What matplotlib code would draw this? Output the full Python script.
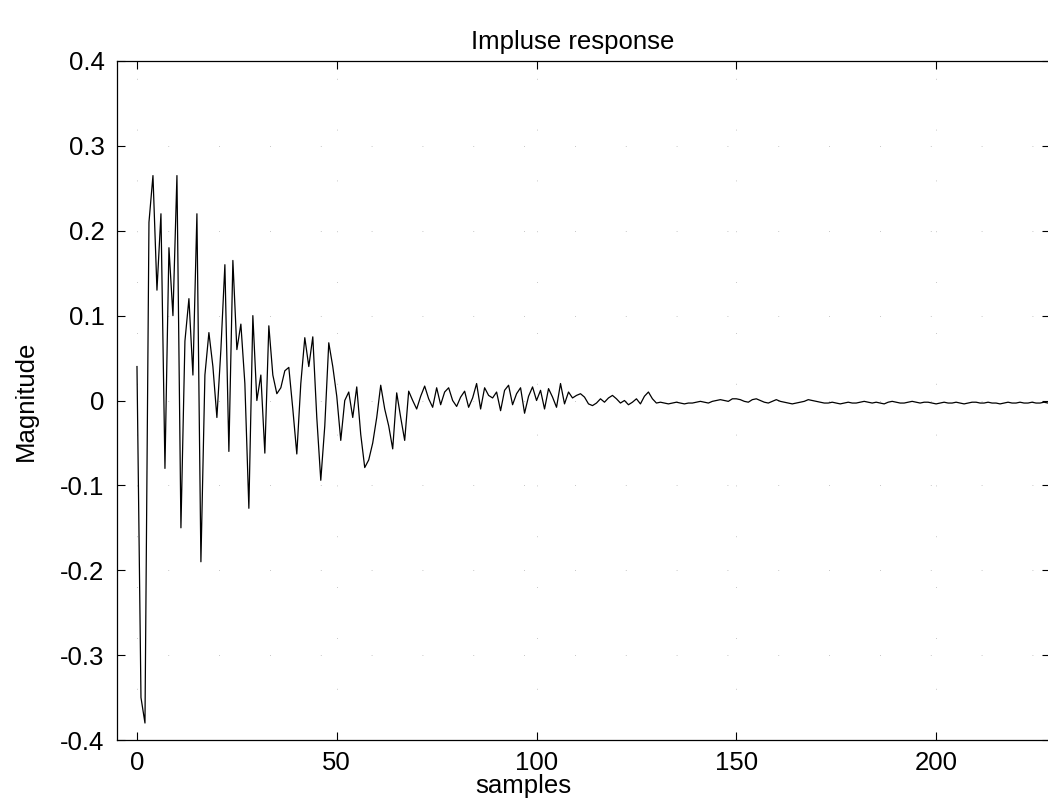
import matplotlib.pyplot as plt
import numpy as np

plt.rcParams['font.family'] = ['Liberation Sans', 'DejaVu Sans']
plt.rcParams['axes.unicode_minus'] = False

# Impulse response values, one per sample
h_early = [
    0.04, -0.35, -0.38, 0.21, 0.265, 0.13, 0.22, -0.08, 0.18, 0.10,      # 0-9
    0.265, -0.15, 0.07, 0.12, 0.03, 0.22, -0.19, 0.03, 0.08, 0.04,       # 10-19
    -0.02, 0.06, 0.16, -0.06, 0.165, 0.06, 0.09, 0.02, -0.127, 0.10,     # 20-29
    0.0, 0.03, -0.062, 0.088, 0.03, 0.008, 0.015, 0.035, 0.039, -0.01,   # 30-39
    -0.063, 0.02, 0.074, 0.04, 0.075, -0.02, -0.094, -0.03, 0.068, 0.04, # 40-49
    0.005, -0.047, 0.0, 0.01, -0.02, 0.016, -0.04, -0.079, -0.07, -0.05, # 50-59
]
h_mid = [
    -0.02, 0.018, -0.01, -0.03, -0.057, 0.009, -0.02, -0.047, 0.011, 0.0,     # 60-69
    -0.01, 0.005, 0.017, 0.002, -0.008, 0.015, -0.005, 0.01, 0.015, 0.0,      # 70-79
    -0.007, 0.004, 0.011, -0.008, 0.003, 0.02, -0.01, 0.015, 0.006, 0.003,    # 80-89
    0.01, -0.012, 0.012, 0.018, -0.005, 0.008, 0.015, -0.015, 0.005, 0.016,   # 90-99
    0.0, 0.012, -0.01, 0.014, 0.004, -0.008, 0.02, -0.004, 0.01, 0.003,       # 100-109
    0.006, 0.008, 0.004, -0.004, -0.006, -0.003, 0.002, -0.002, 0.003, 0.006, # 110-119
    0.002, -0.003, 0.0, -0.005, -0.002, 0.002, -0.004, 0.005, 0.01, 0.002,    # 120-129
]
h_tail = [
    -0.003, -0.002, -0.003, -0.004, -0.003, -0.002, -0.003, -0.004, -0.003, -0.003,  # 130-139
    -0.002, -0.001, -0.002, -0.003, -0.001, 0.0, 0.001, 0.0, -0.001, 0.002,          # 140-149
    0.002, 0.001, -0.001, -0.002, 0.001, 0.002, 0.0, -0.002, -0.003, -0.001,         # 150-159
    0.001, -0.001, -0.002, -0.003, -0.004, -0.003, -0.002, -0.001, 0.001, 0.0,       # 160-169
    -0.001, -0.002, -0.003, -0.003, -0.002, -0.003, -0.004, -0.003, -0.002, -0.003,  # 170-179
    -0.003, -0.002, -0.001, -0.002, -0.003, -0.002, -0.003, -0.004, -0.002, -0.001,  # 180-189
    -0.002, -0.003, -0.003, -0.002, -0.001, -0.002, -0.003, -0.002, -0.002, -0.003,  # 190-199
    -0.004, -0.003, -0.002, -0.003, -0.003, -0.002, -0.003, -0.004, -0.003, -0.002,  # 200-209
    -0.002, -0.003, -0.003, -0.002, -0.003, -0.003, -0.004, -0.003, -0.002, -0.003,  # 210-219
    -0.003, -0.002, -0.003, -0.003, -0.002, -0.003, -0.003, -0.002, -0.003, -0.003,  # 220-229
]
h = np.array(h_early + h_mid + h_tail)
n = np.arange(len(h))

x_ticks = [0, 50, 100, 150, 200]
y_ticks = [-0.4, -0.3, -0.2, -0.1, 0, 0.1, 0.2, 0.3, 0.4]
y_labels = ['-0.4', '-0.3', '-0.2', '-0.1', '0', '0.1', '0.2', '0.3', '0.4']

W, H = 1048, 800
fig = plt.figure(figsize=(W / 100, H / 100), dpi=100)
# axes run a little past the right edge, as in the cropped scan
ax = fig.add_axes([117 / W, 1 - 740 / H, (1050 - 117) / W, (740 - 61) / H])

ax.plot(n, h, color='black', lw=0.9)

ax.set_xlim(-5, 228.5)
ax.set_ylim(-0.4, 0.4)
ax.set_xticks(x_ticks)
ax.set_yticks(y_ticks)
ax.set_yticklabels(y_labels)
ax.tick_params(direction='in', length=6, width=0.8, top=True, right=True,
               labelsize=18.5, pad=9)
ax.tick_params(axis='x', pad=8)
ax.grid(True, color='0.7', lw=0.6, ls=(0, (1, 60)))
for s in ax.spines.values():
    s.set_linewidth(0.9)

ax.set_title('Impluse response', fontsize=18.5, pad=9, x=0.488)
ax.set_xlabel('samples', fontsize=18.5, va='baseline')
ax.xaxis.set_label_coords(0.436, -0.0775)
ax.set_ylabel('Magnitude', fontsize=18.5, labelpad=16)

fig.savefig('out.png', dpi=100)
